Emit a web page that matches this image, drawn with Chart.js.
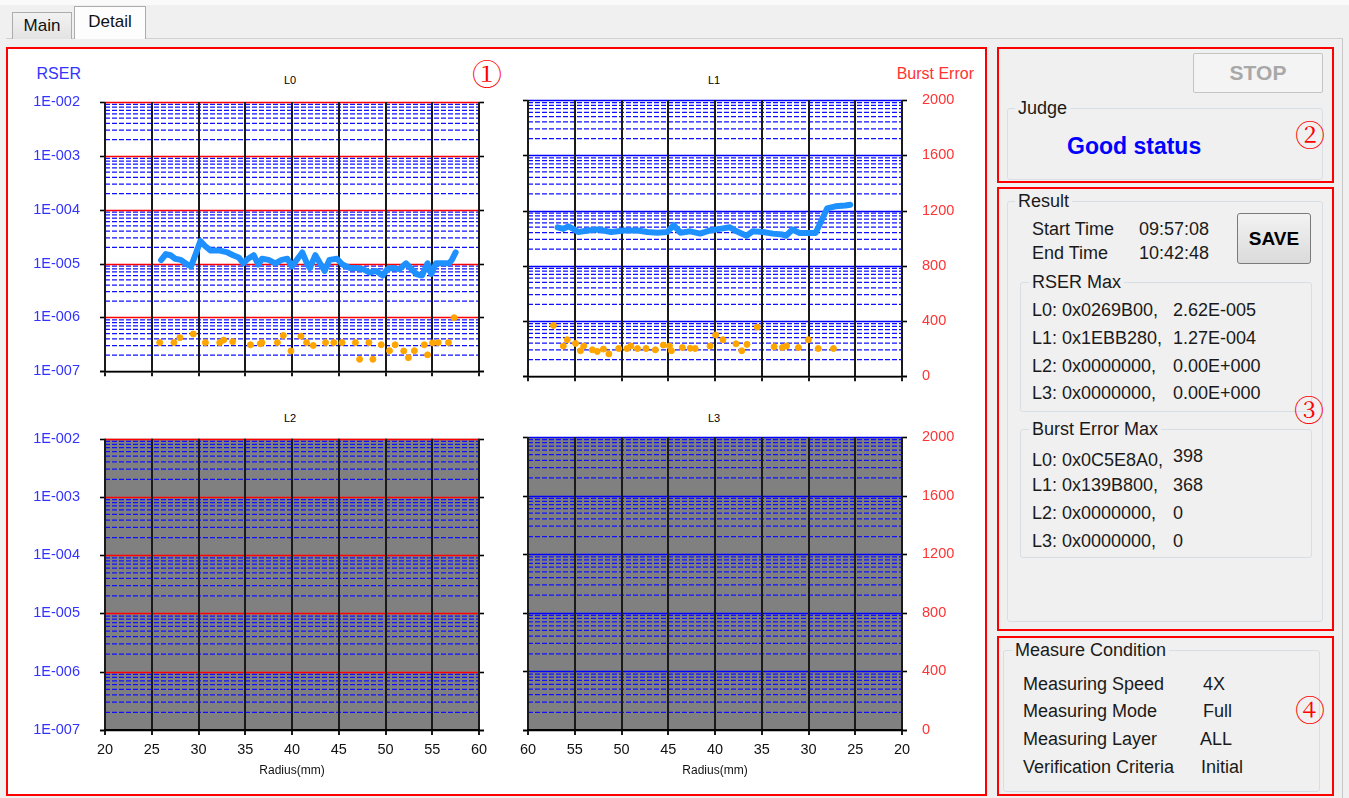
<!DOCTYPE html>
<html lang="en">
<head>
<meta charset="UTF-8">
<title>Detail</title>
<script src="https://cdn.jsdelivr.net/npm/chart.js"></script>
<style>
  body { margin: 0; background: #f0f0f0; font-family: "Liberation Sans", Arial, sans-serif; }
  #app { position: relative; width: 1349px; height: 798px; overflow: hidden; background: #f0f0f0; }
  .abs { position: absolute; white-space: nowrap; }
  .box { position: absolute; box-sizing: border-box; border: 2px solid #ff0000; }
  .grp { position: absolute; box-sizing: border-box; border: 1px solid #d8dfe4; border-radius: 3px; }
  .grp-label { position: absolute; background: #f0f0f0; padding: 0 3px; font-size: 18px; line-height: 20px; color: #1a1a1a; }
  .txt { position: absolute; font-size: 18px; line-height: 20px; color: #1a1a1a; white-space: nowrap; }
  .num { position: absolute; font-family: "Noto Serif CJK JP", "Noto Sans CJK JP", serif; color: #ff0000; font-size: 30px; line-height: 30px; }
  .ctitle { position: absolute; font-size: 11px; color: #000; width: 40px; text-align: center; }
  canvas { position: absolute; }
</style>
</head>
<body>
<div id="app">
  <!-- tabs -->
  <div class="abs" style="left:0;top:0;width:1349px;height:5px;background:#fafafa"></div>
  <div class="abs" style="left:6px;top:38px;width:1337px;height:760px;border-top:1px solid #d0d0d0;border-right:1px solid #c8c8c8;box-sizing:border-box"></div>
  <div class="abs" style="left:12px;top:12px;width:60px;height:27px;box-sizing:border-box;border:1px solid #acacac;border-bottom:none;background:linear-gradient(#f2f2f2,#e3e3e3);font-size:17px;line-height:26px;text-align:center;color:#111">Main</div>
  <div class="abs" style="left:74px;top:6px;width:72px;height:33px;box-sizing:border-box;border:1px solid #acacac;border-bottom:none;background:#fdfdfd;font-size:17px;line-height:30px;text-align:center;color:#111">Detail</div>

  <!-- area 1 : charts -->
  <div class="box" style="left:6px;top:47px;width:981px;height:749px;background:#ffffff"></div>
  <div class="num" style="left:472px;top:57px">①</div>
  <div class="abs" style="left:20px;top:65px;width:61px;text-align:right;font-size:16px;color:#3333ff">RSER</div>
  <div class="abs" style="left:880px;top:65px;width:94px;text-align:right;font-size:16px;color:#ff3333">Burst Error</div>
  <div class="ctitle" style="left:270px;top:74px">L0</div>
  <div class="ctitle" style="left:694px;top:74px">L1</div>
  <div class="ctitle" style="left:270px;top:412px">L2</div>
  <div class="ctitle" style="left:694px;top:412px">L3</div>
  <canvas id="c0" width="500" height="345" style="left:0;top:60px"></canvas>
  <canvas id="c1" width="490" height="345" style="left:500px;top:60px"></canvas>
  <canvas id="c2" width="500" height="380" style="left:0;top:405px"></canvas>
  <canvas id="c3" width="490" height="380" style="left:500px;top:405px"></canvas>

  <!-- area 2 : judge -->
  <div class="box" style="left:997px;top:47px;width:337px;height:136px"></div>
  <div class="abs" style="left:1193px;top:53px;width:130px;height:40px;box-sizing:border-box;border:1px solid #c4c4c4;border-radius:2px;background:#f4f4f4;font-size:21px;font-weight:bold;line-height:38px;text-align:center;color:#a8a8a8">STOP</div>
  <div class="grp" style="left:1007px;top:108px;width:316px;height:72px"></div>
  <div class="grp-label" style="left:1015px;top:98px">Judge</div>
  <div class="txt" style="left:1067px;top:133px;font-size:23px;line-height:26px;font-weight:bold;color:#0000ff">Good status</div>
  <div class="num" style="left:1295px;top:118px">②</div>

  <!-- area 3 : result -->
  <div class="box" style="left:997px;top:187px;width:337px;height:444px"></div>
  <div class="grp" style="left:1007px;top:201px;width:316px;height:421px"></div>
  <div class="grp-label" style="left:1015px;top:191px">Result</div>
  <div class="txt" style="left:1032px;top:219px">Start Time</div>
  <div class="txt" style="left:1139px;top:219px">09:57:08</div>
  <div class="txt" style="left:1032px;top:243px">End Time</div>
  <div class="txt" style="left:1139px;top:243px">10:42:48</div>
  <div class="abs" style="left:1237px;top:213px;width:74px;height:51px;box-sizing:border-box;border:1px solid #7a7a7a;border-radius:3px;background:linear-gradient(#f3f3f3,#dadada);font-size:19px;font-weight:bold;line-height:49px;text-align:center;color:#000">SAVE</div>
  <div class="grp" style="left:1020px;top:282px;width:292px;height:130px"></div>
  <div class="grp-label" style="left:1029px;top:272px">RSER Max</div>
  <div class="txt" style="left:1032px;top:300px">L0: 0x0269B00,</div><div class="txt" style="left:1173px;top:300px">2.62E-005</div>
  <div class="txt" style="left:1032px;top:328px">L1: 0x1EBB280,</div><div class="txt" style="left:1173px;top:328px">1.27E-004</div>
  <div class="txt" style="left:1032px;top:356px">L2: 0x0000000,</div><div class="txt" style="left:1173px;top:356px">0.00E+000</div>
  <div class="txt" style="left:1032px;top:383px">L3: 0x0000000,</div><div class="txt" style="left:1173px;top:383px">0.00E+000</div>
  <div class="num" style="left:1294px;top:393px">③</div>
  <div class="grp" style="left:1020px;top:429px;width:292px;height:129px"></div>
  <div class="grp-label" style="left:1029px;top:419px">Burst Error Max</div>
  <div class="txt" style="left:1032px;top:450px">L0: 0x0C5E8A0,</div><div class="txt" style="left:1173px;top:446px">398</div>
  <div class="txt" style="left:1032px;top:475px">L1: 0x139B800,</div><div class="txt" style="left:1173px;top:475px">368</div>
  <div class="txt" style="left:1032px;top:503px">L2: 0x0000000,</div><div class="txt" style="left:1173px;top:503px">0</div>
  <div class="txt" style="left:1032px;top:531px">L3: 0x0000000,</div><div class="txt" style="left:1173px;top:531px">0</div>

  <!-- area 4 : measure condition -->
  <div class="box" style="left:997px;top:636px;width:337px;height:160px"></div>
  <div class="grp" style="left:1003px;top:650px;width:317px;height:142px"></div>
  <div class="grp-label" style="left:1012px;top:640px">Measure Condition</div>
  <div class="txt" style="left:1023px;top:674px">Measuring Speed</div><div class="txt" style="left:1203px;top:674px">4X</div>
  <div class="txt" style="left:1023px;top:701px">Measuring Mode</div><div class="txt" style="left:1203px;top:701px">Full</div>
  <div class="txt" style="left:1023px;top:729px">Measuring Layer</div><div class="txt" style="left:1200px;top:729px">ALL</div>
  <div class="txt" style="left:1023px;top:757px">Verification Criteria</div><div class="txt" style="left:1201px;top:757px">Initial</div>
  <div class="num" style="left:1295px;top:693px">④</div>
</div>

<script>
// axis ticks
const radiusTicks = [20, 25, 30, 35, 40, 45, 50, 55, 60];
const rserTicks = [1e-7, 1e-6, 1e-5, 1e-4, 1e-3, 1e-2];
const burstTicks = [0, 400, 800, 1200, 1600, 2000];

// L0 RSER (radius mm, value)
const l0Radius = [26.0, 26.5, 27.0, 27.5, 28.1, 28.8, 29.2, 29.7, 30.2, 30.7, 31.3, 32.3, 33.1, 33.7, 34.3, 34.8,
  35.3, 35.9, 36.4, 36.8, 37.5, 38.2, 38.9, 39.5, 40.0, 40.5, 41.1, 41.6, 41.9, 42.5, 43.0, 43.5, 44.0, 44.8,
  45.4, 46.2, 46.9, 47.6, 48.3, 49.0, 49.7, 50.2, 50.7, 51.5, 52.2, 52.8, 53.3, 53.9, 54.5, 54.9, 55.4, 56.1,
  56.8, 57.1, 57.5];
const l0Rser = [1.16e-5, 1.5e-5, 1.43e-5, 1.23e-5, 1.17e-5, 9.6e-6, 8.9e-6, 1.5e-5, 2.62e-5, 2.12e-5, 1.74e-5,
  1.74e-5, 1.61e-5, 1.43e-5, 1.3e-5, 1.01e-5, 1.23e-5, 1.43e-5, 9.6e-6, 1.23e-5, 1.17e-5, 1.01e-5, 1.17e-5,
  1.23e-5, 8.9e-6, 1.17e-5, 1.61e-5, 1.01e-5, 8.3e-6, 1.43e-5, 1.01e-5, 7.3e-6, 1.17e-5, 1.23e-5, 9.6e-6,
  8.3e-6, 8.3e-6, 7.9e-6, 6.8e-6, 7.3e-6, 6.0e-6, 7.9e-6, 8.3e-6, 7.9e-6, 1.01e-5, 7.9e-6, 6.4e-6, 6.0e-6,
  1.01e-5, 6.4e-6, 1.01e-5, 1.01e-5, 1.01e-5, 1.17e-5, 1.61e-5];

// L0 burst error
const l0BurstRadius = [25.85, 27.37, 28.01, 29.44, 30.74, 32.27, 32.69, 33.65, 35.56, 36.6, 36.78, 38.44, 39.07,
  39.89, 40.96, 41.56, 42.27, 43.59, 44.47, 45.35, 46.78, 47.23, 48.22, 48.65, 49.54, 50.43, 51.03, 51.95,
  52.45, 53.09, 54.15, 54.5, 55.03, 55.64, 56.73, 57.34];
const l0Burst = [213, 213, 250, 277, 213, 213, 232, 220, 197, 204, 213, 213, 266, 151, 261, 213, 192, 213, 213,
  213, 213, 89, 213, 89, 197, 153, 197, 151, 101, 153, 197, 122, 211, 213, 213, 398];

// L1 RSER
const l1Radius = [56.83, 56.22, 55.69, 55.16, 54.63, 53.58, 52.52, 51.11, 49.70, 48.29, 47.23, 46.17, 45.11,
  44.41, 43.70, 42.65, 41.59, 40.53, 39.47, 38.41, 37.70, 36.64, 35.95, 34.89, 33.83, 32.77, 32.41, 31.71,
  31.0, 29.95, 29.24, 28.01, 27.12, 26.06, 25.53];
const l1Rser = [4.97e-5, 4.65e-5, 5.17e-5, 4.65e-5, 4.08e-5, 4.36e-5, 4.54e-5, 4.08e-5, 4.36e-5, 4.36e-5,
  4.08e-5, 3.97e-5, 4.08e-5, 5.43e-5, 3.97e-5, 4.2e-5, 3.82e-5, 4.36e-5, 4.65e-5, 4.97e-5, 4.2e-5, 3.49e-5,
  4.2e-5, 4.08e-5, 3.82e-5, 3.67e-5, 3.49e-5, 4.54e-5, 3.93e-5, 3.93e-5, 3.93e-5, 1.09e-4, 1.19e-4, 1.23e-4,
  1.27e-4];

// L1 burst error
const l1BurstRadius = [57.28, 56.22, 55.80, 54.92, 54.39, 54.04, 53.12, 52.59, 51.93, 51.35, 50.30, 49.42, 49.0,
  48.29, 47.38, 46.38, 45.53, 44.87, 44.66, 43.49, 42.65, 42.12, 40.53, 39.93, 39.15, 37.75, 37.14, 36.58,
  35.48, 33.68, 32.80, 32.35, 31.08, 30.02, 28.96, 27.33];
const l1Burst = [368, 219, 265, 238, 185, 219, 192, 180, 197, 162, 201, 201, 219, 201, 201, 192, 226, 219, 185,
  208, 203, 201, 219, 299, 265, 235, 185, 231, 356, 214, 208, 219, 208, 265, 201, 201];

// L2 / L3 have no measurement
const l2Radius = [], l2Rser = [], l2BurstRadius = [], l2Burst = [];
const l3Radius = [], l3Rser = [], l3BurstRadius = [], l3Burst = [];

Chart.defaults.font.family = '"Liberation Sans", Arial, sans-serif';

const pts = (xs, ys) => xs.map((x, i) => ({ x: x, y: ys[i] }));
const expLabel = v => '1E-' + String(Math.round(-Math.log10(v))).padStart(3, '0');

// log grid: solid line at each decade, dashed blue at 2..9
const detailGrid = {
  id: 'detailGrid',
  beforeDraw(chart, args, o) {
    const { ctx, chartArea: a } = chart;
    const ys = chart.scales.y;
    const line = (x1, y1, x2, y2) => { ctx.beginPath(); ctx.moveTo(x1, y1); ctx.lineTo(x2, y2); ctx.stroke(); };
    ctx.save();
    if (o.fill) {
      ctx.fillStyle = o.fill;
      ctx.fillRect(a.left, a.top, a.right - a.left, a.bottom - a.top);
    }
    ctx.strokeStyle = '#1010ff';
    ctx.lineWidth = 1.25;
    ctx.setLineDash([5, 2]);
    for (let i = 0; i < rserTicks.length - 1; i++) {
      for (let k = 2; k <= 9; k++) {
        const py = ys.getPixelForValue(rserTicks[i] * k);
        line(a.left, py, a.right, py);
      }
    }
    ctx.setLineDash([]);
    rserTicks.forEach((v, i) => {
      const py = Math.round(ys.getPixelForValue(v)) + 0.5;
      ctx.lineWidth = 1.6;
      ctx.strokeStyle = i === 0 ? '#000000' : o.major;
      line(i === 0 ? a.left - 5 : a.left, py, i === 0 ? a.right + 5 : a.right, py);
      ctx.strokeStyle = '#000000';
      line(a.left - 5, py, a.left, py);
      line(a.right, py, a.right + 5, py);
    });
    ctx.restore();
  }
};

function makeChart(id, rx, ry, bx, by, o) {
  return new Chart(document.getElementById(id), {
    type: 'scatter',
    data: {
      datasets: [
        { data: pts(rx, ry), yAxisID: 'y', showLine: true, borderColor: '#1e90ff', backgroundColor: '#1e90ff',
          borderWidth: 6, pointRadius: 0, tension: 0, borderJoinStyle: 'round', borderCapStyle: 'round' },
        { data: pts(bx, by), yAxisID: 'y2', borderColor: '#ffa500', backgroundColor: '#ffa500', pointRadius: 3 }
      ]
    },
    options: {
      responsive: false,
      animation: false,
      devicePixelRatio: 1,
      events: [],
      layout: { padding: { top: o.padTop, left: 0, right: 0, bottom: 0 } },
      plugins: {
        legend: { display: false },
        tooltip: { enabled: false },
        detailGrid: { fill: o.fill, major: o.major }
      },
      scales: {
        x: {
          type: 'linear', min: 20, max: 60, reverse: o.reverse,
          afterBuildTicks: s => { s.ticks = radiusTicks.map(v => ({ value: v })); },
          grid: { color: '#1a1a1a', lineWidth: 2, tickLength: 5, drawTicks: true },
          border: { display: true, color: '#000000', width: 1.5 },
          ticks: { display: o.xLabels, color: '#111', font: { size: 14.5 }, padding: 6, maxRotation: 0, autoSkip: false },
          title: { display: o.xLabels, text: 'Radius(mm)', color: '#111', font: { size: 12 }, padding: { top: 0, bottom: 7 } },
          afterFit: s => { s.height = o.xHeight; }
        },
        y: {
          type: 'logarithmic', position: 'left', min: 1e-7, max: 1e-2,
          afterBuildTicks: s => { s.ticks = rserTicks.map(v => ({ value: v })); },
          grid: { display: false, drawTicks: false },
          border: { display: false },
          ticks: { display: o.leftLabels, color: '#3333ff', font: { size: 14.5 }, padding: 25, autoSkip: false, callback: v => expLabel(v) },
          afterFit: s => { s.width = o.leftW; }
        },
        y2: {
          type: 'linear', position: 'right', min: 0, max: 2000,
          afterBuildTicks: s => { s.ticks = burstTicks.map(v => ({ value: v })); },
          grid: { display: false, drawTicks: false },
          border: { display: false },
          ticks: { display: o.rightLabels, color: '#ff3333', font: { size: 14.5 }, padding: 20, autoSkip: false, callback: v => String(v) },
          afterFit: s => { s.width = o.rightW; }
        }
      }
    },
    plugins: [detailGrid]
  });
}

makeChart('c0', l0Radius, l0Rser, l0BurstRadius, l0Burst,
  { padTop: 42, xHeight: 12, leftW: 105, rightW: 21, reverse: false, xLabels: false, leftLabels: true, rightLabels: false, fill: null, major: '#ff0000' });
makeChart('c1', l1Radius, l1Rser, l1BurstRadius, l1Burst,
  { padTop: 40, xHeight: 13, leftW: 28, rightW: 88, reverse: true, xLabels: false, leftLabels: false, rightLabels: true, fill: null, major: '#0000ff' });
makeChart('c2', l2Radius, l2Rser, l2BurstRadius, l2Burst,
  { padTop: 32, xHeight: 55, leftW: 105, rightW: 21, reverse: false, xLabels: true, leftLabels: true, rightLabels: false, fill: '#808080', major: '#ff0000' });
makeChart('c3', l3Radius, l3Rser, l3BurstRadius, l3Burst,
  { padTop: 32, xHeight: 55, leftW: 28, rightW: 88, reverse: true, xLabels: true, leftLabels: false, rightLabels: true, fill: '#808080', major: '#0000ff' });
</script>
</body>
</html>
